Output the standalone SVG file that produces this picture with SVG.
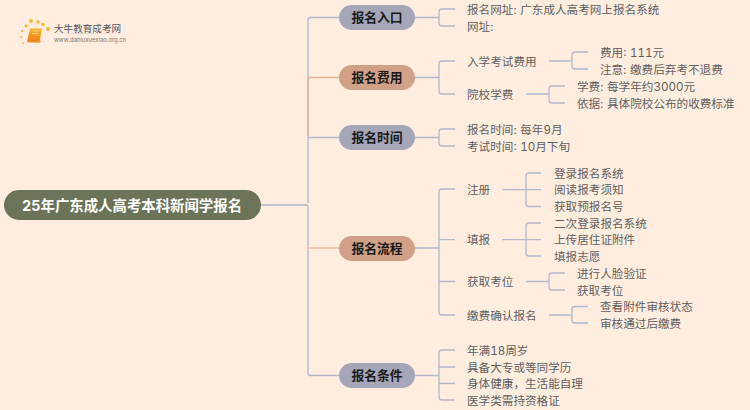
<svg xmlns="http://www.w3.org/2000/svg" width="750" height="410" viewBox="0 0 750 410">
<defs>
<linearGradient id="book" x1="0" y1="0" x2="0" y2="1"><stop offset="0" stop-color="#fbb52e"/><stop offset="1" stop-color="#ee7d10"/></linearGradient>
<linearGradient id="rule" x1="0" y1="0" x2="1" y2="0"><stop offset="0" stop-color="#e4ddd4" stop-opacity="0"/><stop offset="0.4" stop-color="#d8d2ca"/><stop offset="1" stop-color="#e4ddd4" stop-opacity="0"/></linearGradient>
</defs>
<style>
text{font-family:"Inter","Noto Sans CJK SC",sans-serif;font-feature-settings:"tnum"}
.c{fill:none;stroke:#b4b7cd;stroke-width:1.3}
.o{fill:none;stroke:#e3b498;stroke-width:1.3}
.t{font-size:11.6px;fill:#5f5f5f;dominant-baseline:central;word-spacing:0.6px}
.p{font-size:12.8px;font-weight:700;fill:#1a1a1a;text-anchor:middle;dominant-baseline:central}
.g{fill:#a6a6b9}
.b{fill:#d0a087}
.dot{fill:#f7b733}
</style>
<rect width="750" height="410" fill="#ffeee0"/>
<g id="logo">
<circle cx="31" cy="21" r="2" class="dot"/><circle cx="38" cy="22" r="1.8" class="dot"/><circle cx="43" cy="24.500" r="1.800" class="dot"/><circle cx="48" cy="29" r="2" class="dot"/>
<circle cx="26" cy="26" r="1.500" class="dot"/><circle cx="22" cy="31" r="1.200" class="dot"/><circle cx="21.500" cy="37" r="1" class="dot"/><circle cx="23" cy="43" r="0.900" class="dot"/>
<path d="M30 28.500h12l-2.500 13h-12.500z" fill="url(#book)"/>
<path d="M27.500 41.500h11.500l2-1-.8 2h-12.500z" fill="#e8781a"/>
<path d="M32.500 31h6.500M32 33.500h6.500" stroke="#fde6b0" stroke-width="0.700" fill="none"/>
<text x="54" y="28" font-size="9.600" fill="#555" dominant-baseline="central">大牛教育成考网</text>
<rect x="46" y="33" width="86" height="1" fill="url(#rule)"/>
<text x="54" y="39" font-size="5.900" fill="#777" dominant-baseline="central">www.daniuxuexiao.org.cn</text>
</g>
<g id="connectors">
<path class="c" d="M261 205H306M308 203V139Q308 137.500 310 137.500H339"/>
<path class="c" d="M308 137.500V20Q308 17.500 310.500 17.500H339"/>
<path class="o" d="M308 137V80Q308 77.500 310.500 77.500H339"/>
<path class="c" d="M306 205Q308 205 308 207V373Q308 375.500 310.500 375.500H339"/>
<path class="o" d="M309 248H339"/>
<path class="c" d="M415 17.500H439M455 9H442Q439 9 439 12V23Q439 26 442 26H455"/>
<path class="c" d="M415 77.500H439M455 61H442Q439 61 439 64V91Q439 94 442 94H455"/>
<path class="c" d="M549 61H572M588 52H575Q572 52 572 55V66Q572 69 575 69H588"/>
<path class="c" d="M526 94H549M565 86H552Q549 86 549 89V100Q549 103 552 103H565"/>
<path class="c" d="M415 137.500H439M455 129H442Q439 129 439 132V143Q439 146 442 146H455"/>
<path class="c" d="M415 248H439M455 189H442Q439 189 439 192V312Q439 315 442 315H455M439 239.700H455M439 281.500H455"/>
<path class="c" d="M502 189.700H541M541 173H529Q526 173 526 176V203.500Q526 206.500 529 206.500H541"/>
<path class="c" d="M502 239.700H541M541 223H529Q526 223 526 226V253Q526 256 529 256H541"/>
<path class="c" d="M526 281.500H549M565 273H552Q549 273 549 276V287Q549 290 552 290H565"/>
<path class="c" d="M549 315H572M588 306.500H575Q572 306.500 572 309.500V320Q572 323 575 323H588"/>
<path class="c" d="M415 375.500H439M455 350H442Q439 350 439 353V397Q439 400 442 400H455M439 367H455M439 383.500H455"/>
</g>
<g id="root"><rect x="4" y="190" width="257" height="30" rx="15" fill="#6b7358"/><text x="132" y="205.300" font-size="14.400" font-weight="700" fill="#fff" text-anchor="middle" dominant-baseline="central">25年广东成人高考本科新闻学报名</text></g>
<g id="n1"><rect class="g" x="339" y="5" width="76" height="25" rx="12.500"/><text class="p" x="377" y="17.800">报名入口</text></g>
<g id="n2"><rect class="b" x="339" y="65" width="76" height="25" rx="12.500"/><text class="p" x="377" y="77.800">报名费用</text></g>
<g id="n3"><rect class="g" x="339" y="125" width="76" height="25" rx="12.500"/><text class="p" x="377" y="137.800">报名时间</text></g>
<g id="n4"><rect class="b" x="339" y="236" width="76" height="25" rx="12.500"/><text class="p" x="377" y="248.300">报名流程</text></g>
<g id="n5"><rect class="g" x="339" y="363" width="76" height="25" rx="12.500"/><text class="p" x="377" y="375.800">报名条件</text></g>
<g id="leaves" transform="translate(0,0.6)">
<text class="t" x="467" y="9">报名网址: 广东成人高考网上报名系统</text>
<text class="t" x="467" y="26">网址:</text>
<text class="t" x="467" y="61">入学考试费用</text>
<text class="t" x="600" y="52">费用: 111元</text>
<text class="t" x="600" y="69">注意: 缴费后弃考不退费</text>
<text class="t" x="467" y="94">院校学费</text>
<text class="t" x="577" y="86">学费: 每学年约3000元</text>
<text class="t" x="577" y="103">依据: 具体院校公布的收费标准</text>
<text class="t" x="467" y="129">报名时间: 每年9月</text>
<text class="t" x="467" y="146">考试时间: 10月下旬</text>
<text class="t" x="467" y="189.500">注册</text>
<text class="t" x="554" y="173">登录报名系统</text>
<text class="t" x="554" y="189.700">阅读报考须知</text>
<text class="t" x="554" y="206.500">获取预报名号</text>
<text class="t" x="467" y="239.700">填报</text>
<text class="t" x="554" y="223">二次登录报名系统</text>
<text class="t" x="554" y="239.700">上传居住证附件</text>
<text class="t" x="554" y="256">填报志愿</text>
<text class="t" x="467" y="281.500">获取考位</text>
<text class="t" x="577" y="273">进行人脸验证</text>
<text class="t" x="577" y="290">获取考位</text>
<text class="t" x="467" y="315">缴费确认报名</text>
<text class="t" x="600" y="306.500">查看附件审核状态</text>
<text class="t" x="600" y="323">审核通过后缴费</text>
<text class="t" x="467" y="350">年满18周岁</text>
<text class="t" x="467" y="367">具备大专或等同学历</text>
<text class="t" x="467" y="383.500">身体健康，生活能自理</text>
<text class="t" x="467" y="400">医学类需持资格证</text>
</g>
</svg>
